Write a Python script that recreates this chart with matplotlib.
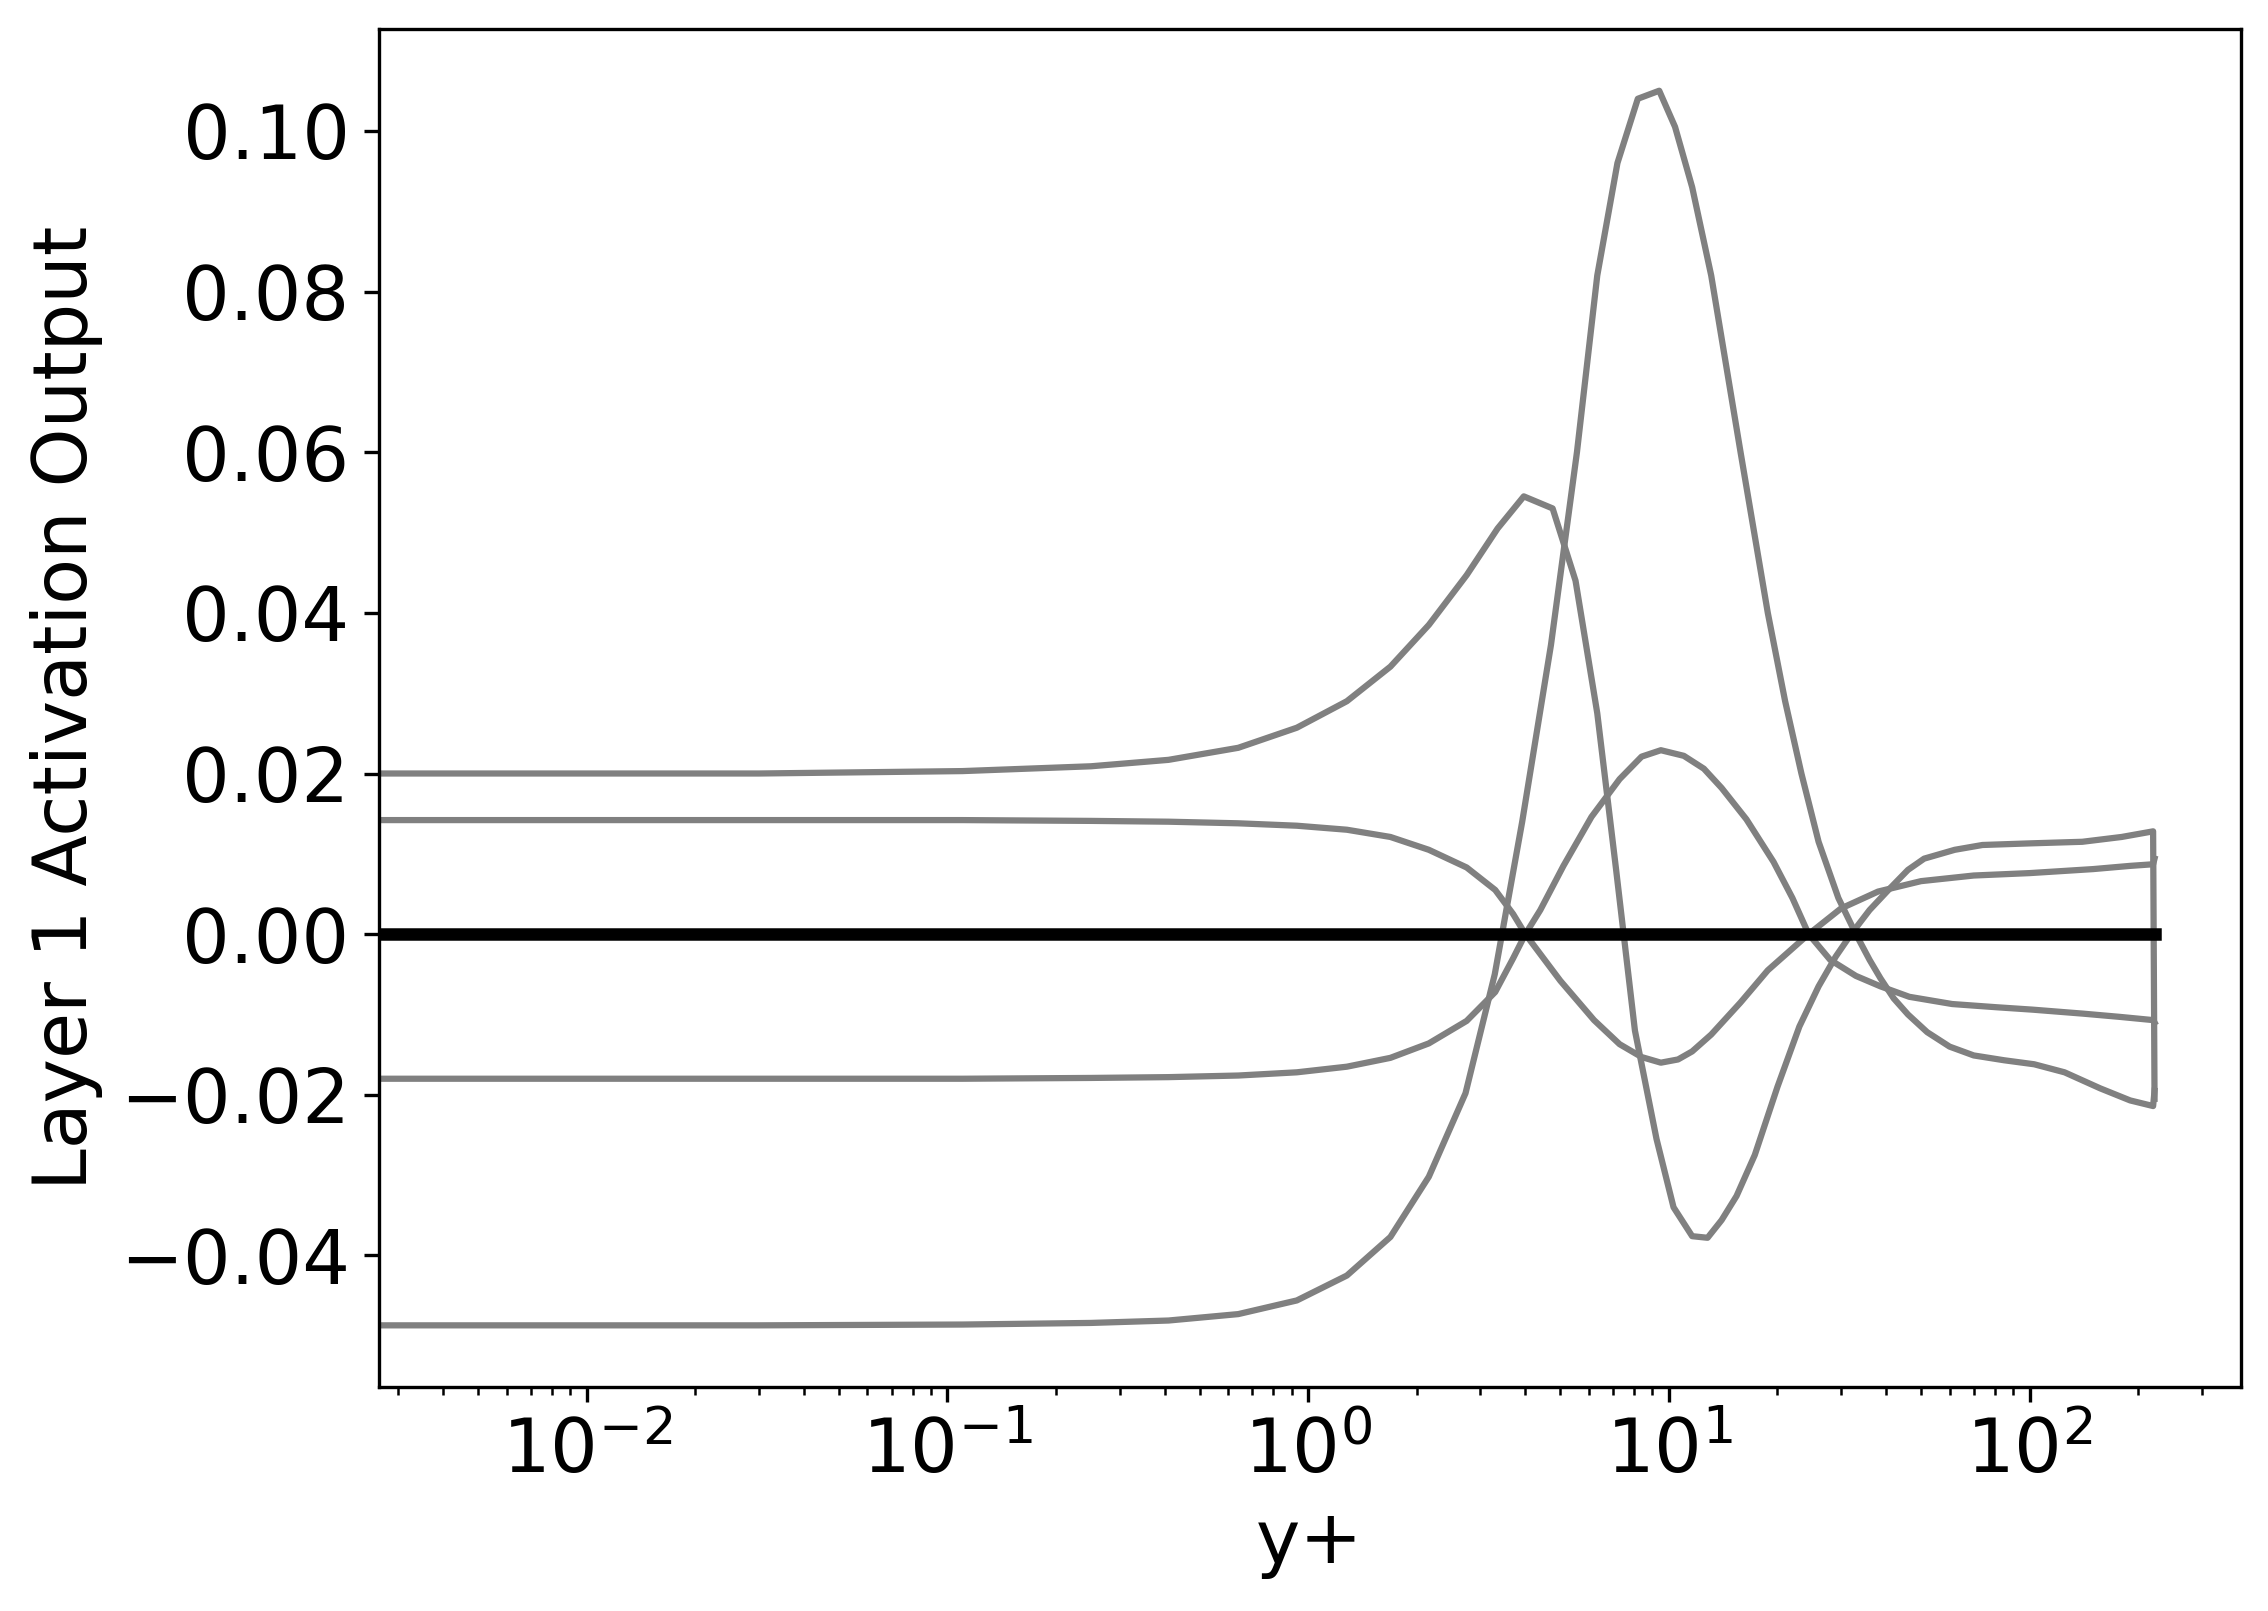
import numpy as np
import matplotlib
matplotlib.use('Agg')
import matplotlib.pyplot as plt

# y+ locations and layer-1 activation outputs
yplus_a = [0, 0.03, 0.11, 0.25, 0.41, 0.64, 0.93, 1.28, 1.69, 2.16, 2.73, 3.29, 3.92,
           4.71, 5.56, 6.33, 7.2, 8.2, 9.4, 10.4, 11.6, 13.1, 15.8, 18.8, 21, 23.3, 26,
           29.5, 33, 36, 38.6, 42, 46, 52, 60, 70, 85, 103, 125, 157, 190, 220, 222]
act_a = [-0.0487, -0.0487, -0.0486, -0.0484, -0.0481, -0.0473, -0.0456, -0.0425, -0.0377,
         -0.0302, -0.0198, -0.005, 0.014, 0.036, 0.060, 0.082, 0.096, 0.104, 0.105, 0.1005,
         0.093, 0.082, 0.060, 0.040, 0.029, 0.020, 0.0115, 0.0045, 0.0, -0.0032, -0.0055,
         -0.0080, -0.0100, -0.0122, -0.0140, -0.0151, -0.0157, -0.0162, -0.0172, -0.0192,
         -0.0207, -0.0214, -0.0195]

yplus_b = [0, 0.03, 0.11, 0.25, 0.41, 0.64, 0.93, 1.28, 1.69, 2.16, 2.75, 3.35, 3.96,
           4.76, 5.51, 6.33, 7.14, 8.05, 9.24, 10.3, 11.6, 12.8, 14, 15.4, 17.3, 20, 23,
           26, 29, 32, 36, 41, 46, 51, 62, 74, 100, 140, 180, 220, 222]
act_b = [0.0200, 0.0200, 0.0203, 0.0209, 0.0217, 0.0232, 0.0257, 0.0290, 0.0333, 0.0385,
         0.0447, 0.0505, 0.0545, 0.0530, 0.0440, 0.0275, 0.0080, -0.0120, -0.0255, -0.0340,
         -0.0376, -0.0378, -0.0356, -0.0326, -0.0275, -0.0190, -0.0115, -0.0065, -0.0028,
         0.0, 0.0030, 0.0057, 0.0080, 0.0094, 0.0105, 0.0111, 0.0113, 0.0115, 0.0121,
         0.0128, -0.0205]

yplus_c = [0, 0.03, 0.11, 0.25, 0.41, 0.64, 0.93, 1.28, 1.69, 2.16, 2.75, 3.3, 3.7,
           4.0, 5.0, 6.2, 7.3, 8.4, 9.5, 10.6, 11.6, 13.1, 15.8, 18.8, 24.4, 30, 38,
           50, 70, 100, 150, 190, 220, 222]
act_c = [0.0142, 0.0142, 0.0142, 0.0141, 0.0140, 0.0138, 0.0135, 0.0130, 0.0121, 0.0105,
         0.0083, 0.0055, 0.0025, 0.0, -0.0058, -0.0107, -0.0137, -0.0153, -0.0160, -0.0156,
         -0.0146, -0.0125, -0.0085, -0.0045, 0.0, 0.0032, 0.0053, 0.0066, 0.0073, 0.0076,
         0.0081, 0.0085, 0.0087, 0.0094]

yplus_d = [0, 0.03, 0.11, 0.25, 0.41, 0.64, 0.93, 1.28, 1.69, 2.16, 2.75, 3.3, 3.7,
           4.0, 4.4, 5.1, 6.1, 7.3, 8.4, 9.5, 11, 12.5, 14, 16.4, 19.5, 22, 24.4, 28,
           33, 38.6, 46.4, 61, 81, 102, 141, 178, 220, 222]
act_d = [-0.0180, -0.0180, -0.0180, -0.0179, -0.0178, -0.0176, -0.0172, -0.0165, -0.0154,
         -0.0136, -0.0108, -0.0072, -0.0030, 0.0, 0.0030, 0.0085, 0.0146, 0.0193, 0.0221,
         0.0229, 0.0222, 0.0206, 0.0182, 0.0143, 0.0090, 0.0045, 0.0, -0.0032, -0.0052,
         -0.0065, -0.0078, -0.0087, -0.0091, -0.0094, -0.0099, -0.0103, -0.0107, -0.0110]

yplus_zero = [0, 222]
act_zero = [0.0, 0.0]

fig, ax = plt.subplots(figsize=(7.56, 5.37), dpi=300)
fig.subplots_adjust(left=0.167, right=0.988, bottom=0.139, top=0.982)

for x, y in [(yplus_a, act_a), (yplus_b, act_b), (yplus_c, act_c), (yplus_d, act_d)]:
    ax.semilogx(x, y, color='gray', linewidth=1.5)
ax.semilogx(yplus_zero, act_zero, color='black', linewidth=3)

ax.set_xlim(0.00265, 385)
ax.set_xlabel('y+', fontsize=18)
ax.set_ylabel('Layer 1 Activation Output', fontsize=18)
ax.tick_params(labelsize=18)

fig.savefig('out.png', dpi=300)
